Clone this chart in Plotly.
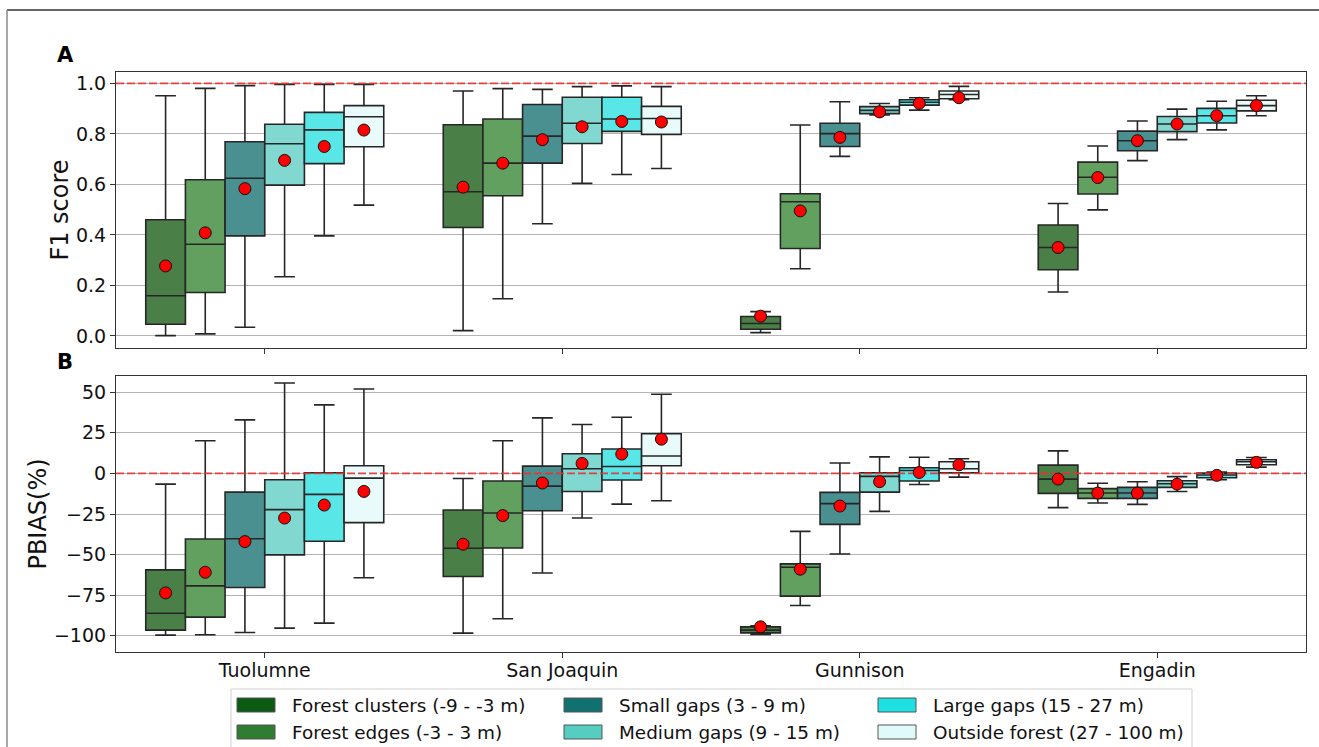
import plotly.graph_objects as go

W, H = 1319, 747

sites = ["Tuolumne", "San Joaquin", "Gunnison", "Engadin"]
classes = [
    "Forest clusters (-9 - -3 m)",
    "Forest edges (-3 - 3 m)",
    "Small gaps (3 - 9 m)",
    "Medium gaps (9 - 15 m)",
    "Large gaps (15 - 27 m)",
    "Outside forest (27 - 100 m)",
]
box_colors = ["#4a7f47", "#62a060", "#4a9090", "#80d8d0", "#58e6e6", "#e8fafa"]
legend_colors = ["#0c5a13", "#2e7d32", "#117070", "#55cdc0", "#1ee0e0", "#e0fafa"]

# ---- Panel A: F1 score (rows = classes, columns = sites) ----
f1_lower = [[0.001, 0.021, 0.013, 0.174], [0.008, 0.147, 0.266, 0.499], [0.034, 0.444, 0.711, 0.694],
            [0.234, 0.604, 0.875, 0.777], [0.396, 0.639, 0.894, 0.816], [0.518, 0.663, 0.935, 0.872]]
f1_q1 = [[0.046, 0.429, 0.026, 0.262], [0.172, 0.555, 0.346, 0.562], [0.396, 0.684, 0.750, 0.733],
         [0.597, 0.762, 0.880, 0.809], [0.682, 0.810, 0.914, 0.843], [0.749, 0.798, 0.939, 0.891]]
f1_median = [[0.159, 0.571, 0.049, 0.350], [0.363, 0.684, 0.531, 0.628], [0.624, 0.791, 0.801, 0.773],
             [0.761, 0.842, 0.893, 0.839], [0.816, 0.859, 0.925, 0.872], [0.868, 0.861, 0.956, 0.912]]
f1_q3 = [[0.460, 0.836, 0.077, 0.439], [0.618, 0.859, 0.563, 0.688], [0.769, 0.916, 0.842, 0.811],
         [0.838, 0.945, 0.908, 0.869], [0.885, 0.945, 0.935, 0.901], [0.912, 0.909, 0.970, 0.933]]
f1_upper = [[0.951, 0.970, 0.096, 0.524], [0.980, 0.979, 0.835, 0.752], [0.991, 0.976, 0.927, 0.851],
            [0.996, 0.987, 0.920, 0.898], [0.996, 0.990, 0.943, 0.929], [0.996, 0.987, 0.988, 0.951]]
f1_mean = [[0.277, 0.589, 0.078, 0.350], [0.408, 0.684, 0.495, 0.627], [0.583, 0.777, 0.786, 0.773],
           [0.695, 0.828, 0.887, 0.839], [0.750, 0.849, 0.921, 0.872], [0.815, 0.847, 0.943, 0.912]]

# ---- Panel B: PBIAS (%) ----
pb_lower = [[-99.6, -98.4, -99.2, -21.1], [-99.4, -89.5, -81.4, -18.2], [-98.0, -61.3, -49.6, -19.1],
            [-95.3, -27.5, -23.4, -11.1], [-92.2, -18.9, -6.8, -3.9], [-64.3, -16.8, -2.3, 3.9]]
pb_q1 = [[-96.5, -63.5, -98.2, -12.3], [-88.5, -45.9, -75.6, -15.4], [-70.3, -23.0, -31.4, -15.4],
         [-50.2, -11.1, -11.5, -8.6], [-41.8, -4.1, -4.7, -2.7], [-30.3, 4.7, 0.4, 5.3]]
pb_median = [[-86.1, -46.1, -96.5, -3.5], [-69.3, -24.4, -57.8, -12.1], [-40.2, -7.8, -18.6, -12.1],
             [-22.3, 2.9, -1.8, -6.4], [-12.9, 4.3, 1.8, -1.0], [-2.9, 10.7, 2.9, 7.2]]
pb_q3 = [[-59.4, -22.5, -94.5, 5.1], [-40.4, -4.7, -55.7, -9.4], [-11.5, 4.5, -11.7, -8.6],
         [-3.9, 12.1, 0.4, -4.5], [0.4, 15.0, 3.5, 0.2], [4.7, 24.4, 7.2, 8.4]]
pb_upper = [[-6.6, -3.1, -93.9, 13.9], [20.1, 20.1, -35.7, -6.1], [33.0, 34.2, 6.4, -5.1],
            [55.7, 30.1, 10.2, -2.0], [42.2, 34.6, 10.0, 0.8], [52.0, 48.8, 9.0, 9.8]]
pb_mean = [[-73.6, -43.6, -94.5, -3.5], [-60.9, -26.0, -59.0, -12.1], [-42.0, -5.9, -20.1, -12.1],
           [-27.5, 6.1, -5.1, -6.6], [-19.5, 11.9, 0.6, -1.2], [-11.1, 21.1, 5.3, 6.8]]

f1_ticks = [0.0, 0.2, 0.4, 0.6, 0.8, 1.0]
f1_ticktext = ["0.0", "0.2", "0.4", "0.6", "0.8", "1.0"]
pb_ticks = [-100, -75, -50, -25, 0, 25, 50]
pb_ticktext = ["\u2212100", "\u221275", "\u221250", "\u221225", "0", "25", "50"]
f1_ref = 1.0
pb_ref = 0.0

FONT = "DejaVu Sans"


def px(x):
    return x / W


def py(y):
    return 1 - y / H


group_width = 0.8
n = len(classes)
bw = group_width / n
xrange_ = [-0.5, len(sites) - 0.5]

fig = go.Figure()

panels = [
    ("x", "y", f1_lower, f1_q1, f1_median, f1_q3, f1_upper, f1_mean, f1_ref),
    ("x2", "y2", pb_lower, pb_q1, pb_median, pb_q3, pb_upper, pb_mean, pb_ref),
]

for xa, ya, lo, q1, me, q3, up, mn, ref in panels:
    for c in range(n):
        off = -group_width / 2 + (c + 0.5) * bw
        xs = [i + off for i in range(len(sites))]
        fig.add_trace(go.Box(
            x=xs, q1=q1[c], median=me[c], q3=q3[c], lowerfence=lo[c], upperfence=up[c],
            width=bw, whiskerwidth=0.52, fillcolor=box_colors[c],
            line=dict(color="#262626", width=1.6), boxpoints=False,
            xaxis=xa, yaxis=ya, showlegend=False, name=classes[c],
        ))
    fig.add_trace(go.Scatter(
        x=xrange_, y=[ref, ref], mode="lines",
        line=dict(color="rgba(232,50,50,0.9)", width=1.6, dash="8px,3px"),
        xaxis=xa, yaxis=ya, showlegend=False, hoverinfo="skip",
    ))
    for c in range(n):
        off = -group_width / 2 + (c + 0.5) * bw
        xs = [i + off for i in range(len(sites))]
        fig.add_trace(go.Scatter(
            x=xs, y=mn[c], mode="markers",
            marker=dict(color="#ff0000", size=12, line=dict(color="#111111", width=1)),
            xaxis=xa, yaxis=ya, showlegend=False, name=classes[c],
        ))

axis_common = dict(showline=True, mirror=True, linecolor="#333333", linewidth=1.2,
                   ticks="outside", ticklen=5, tickcolor="#333333", tickwidth=1.2,
                   zeroline=False, tickfont=dict(family=FONT, size=19, color="#111111"))

xdom = [px(116), px(1306)]
fig.update_layout(
    width=W, height=H,
    margin=dict(l=0, r=0, t=0, b=0),
    paper_bgcolor="white", plot_bgcolor="white",
    font=dict(family=FONT, color="#111111"),
    showlegend=False,
    xaxis=dict(domain=xdom, anchor="y", range=xrange_, tickvals=list(range(len(sites))),
               ticktext=sites, showticklabels=False, showgrid=False, **axis_common),
    xaxis2=dict(domain=xdom, anchor="y2", range=xrange_, tickvals=list(range(len(sites))),
                ticktext=sites, showgrid=False, ticklabelstandoff=-4, **axis_common),
    yaxis=dict(domain=[py(348), py(72)], anchor="x", range=[-0.048, 1.045],
               tickvals=f1_ticks, ticktext=f1_ticktext, showgrid=True, gridcolor="#b4b4b4", gridwidth=1,
               title=dict(text="F1 score", font=dict(family=FONT, size=24, color="#111111"), standoff=0),
               **axis_common),
    yaxis2=dict(domain=[py(652), py(376)], anchor="x2", range=[-110, 60],
                tickvals=pb_ticks, ticktext=pb_ticktext, showgrid=True, gridcolor="#b4b4b4", gridwidth=1,
                title=dict(text="PBIAS(%)", font=dict(family=FONT, size=24, color="#111111"), standoff=0),
                **axis_common),
)

shapes = []
annotations = []
# figure frame lines
shapes.append(dict(type="line", xref="paper", yref="paper", x0=px(7), x1=1.0, y0=py(10), y1=py(10),
                   line=dict(color="#333333", width=1.3)))
shapes.append(dict(type="line", xref="paper", yref="paper", x0=px(7), x1=px(7), y0=py(10), y1=0,
                   line=dict(color="#8a8a8a", width=1.5)))

# panel labels
annotations.append(dict(text="<b>A</b>", x=px(65), y=py(55), xref="paper", yref="paper",
                        xanchor="center", yanchor="middle",
                        showarrow=False, font=dict(family=FONT, size=21, color="#000000")))
annotations.append(dict(text="<b>B</b>", x=px(65), y=py(362), xref="paper", yref="paper",
                        xanchor="center", yanchor="middle",
                        showarrow=False, font=dict(family=FONT, size=21, color="#000000")))

# legend box
shapes.append(dict(type="rect", xref="paper", yref="paper", x0=px(231), x1=px(1192), y0=py(770), y1=py(689),
                   line=dict(color="#d0d0d0", width=1), fillcolor="white"))
col_x = [237, 564, 878]
row_y = [705, 732]
order = [(0, 0), (1, 0), (0, 1), (1, 1), (0, 2), (1, 2)]  # (row, col) for each class
for c, (r, col) in enumerate(order):
    x0 = col_x[col]
    yc = row_y[r]
    shapes.append(dict(type="rect", xref="paper", yref="paper", x0=px(x0), x1=px(x0 + 38),
                       y0=py(yc + 7), y1=py(yc - 7), fillcolor=legend_colors[c],
                       line=dict(color="#555555", width=1)))
    annotations.append(dict(text=classes[c], x=px(x0 + 53), y=py(yc), xref="paper", yref="paper",
                            xanchor="left", yanchor="middle", showarrow=False,
                            font=dict(family=FONT, size=18.4, color="#111111")))

fig.update_layout(shapes=shapes, annotations=annotations)

fig.write_html("out.html", config={"displayModeBar": False},
               post_script="document.body.style.margin='0px';document.body.style.overflow='hidden';")
